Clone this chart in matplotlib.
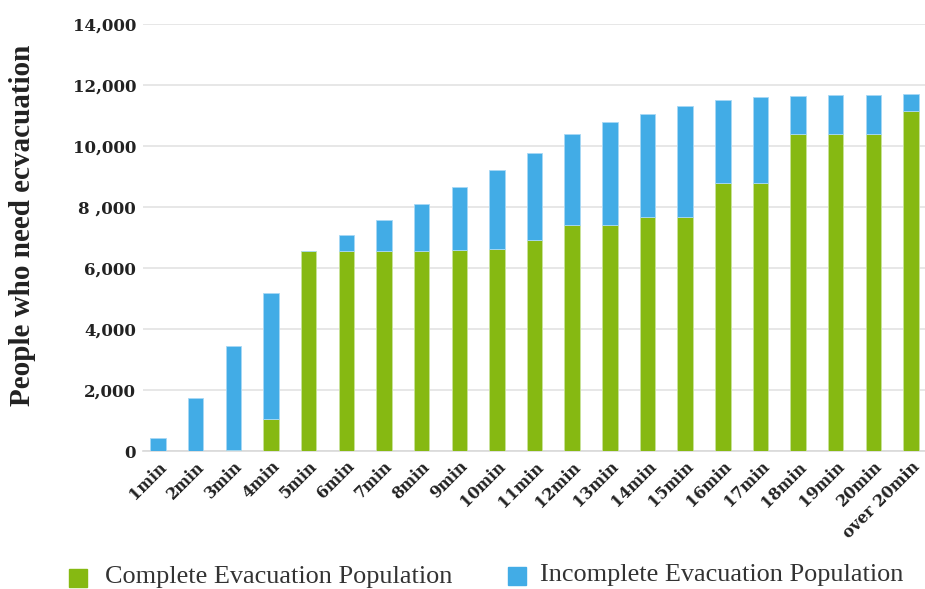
import numpy as np
import matplotlib.pyplot as plt
from matplotlib.patches import Rectangle

# 各时间段的撤离人数
categories = ['1min', '2min', '3min', '4min', '5min', '6min', '7min', '8min', '9min',
              '10min', '11min', '12min', '13min', '14min', '15min', '16min', '17min',
              '18min', '19min', '20min', 'over 20min']
total = [430, 1740, 3440, 5180, 6560, 7080, 7570, 8100, 8660, 9220, 9790, 10400,
         10800, 11060, 11330, 11500, 11600, 11660, 11680, 11690, 11700]
complete = [0, 0, 50, 1050, 6560, 6560, 6560, 6560, 6590, 6630, 6920, 7420,
            7420, 7680, 7680, 8800, 8800, 10400, 10400, 10400, 11140]
incomplete = [t - c for t, c in zip(total, complete)]

green = '#86b912'
blue = '#42ace6'

fig = plt.figure(figsize=(9.25, 5.89), dpi=100)
ax = fig.add_axes([143 / 925, 0.234, 782 / 925, 0.725])

x = np.arange(len(categories))
ax.bar(x, complete, width=0.41, color=green, edgecolor='#c8e39a', linewidth=0.6, zorder=3)
ax.bar(x, incomplete, bottom=complete, width=0.41, color=blue, edgecolor='#a8d8f5',
       linewidth=0.6, zorder=3)

ax.set_ylim(0, 14000)
ax.set_xlim(-0.4, 20.37)
ax.set_yticks(range(0, 14001, 2000))
ax.set_yticklabels(['0', '2,000', '4,000', '6,000', '8 ,000', '10,000', '12,000', '14,000'],
                   fontfamily='DejaVu Serif', fontweight='bold', fontsize=12, color='#222222')
ax.set_xticks(x)
ax.set_xticklabels(categories, rotation=45, ha='right', rotation_mode='anchor',
                   fontfamily='DejaVu Serif', fontweight='bold', fontsize=11.5, color='#222222')
ax.tick_params(axis='y', length=0, pad=5)
ax.tick_params(axis='x', length=0, pad=5)

# 网格线与坐标轴
ax.grid(axis='y', color='#e3e3e3', linewidth=1.2, zorder=0)
for s in ['top', 'right', 'left']:
    ax.spines[s].set_visible(False)
ax.spines['bottom'].set_color('#d9d9d9')
ax.spines['bottom'].set_linewidth(1.2)

fig.text(0.024, 1 - 225 / 589, 'People who need ecvacuation', rotation=90, ha='center',
         va='center', fontfamily='Liberation Serif', fontweight='bold', fontsize=21,
         color='#222222')

# 图例
fig.patches.append(Rectangle((69 / 925, 1 - 587 / 589), 18 / 925, 18 / 589,
                             transform=fig.transFigure, color=green))
fig.text(105 / 925, 1 - 577 / 589, 'Complete Evacuation Population', va='center',
         fontfamily='Liberation Serif', fontsize=18.9, color='#333333')
fig.patches.append(Rectangle((508 / 925, 1 - 585 / 589), 18 / 925, 18 / 589,
                             transform=fig.transFigure, color=blue))
fig.text(540 / 925, 1 - 575 / 589, 'Incomplete Evacuation Population', va='center',
         fontfamily='Liberation Serif', fontsize=18.9, color='#333333')

fig.savefig('out.png', dpi=100)
